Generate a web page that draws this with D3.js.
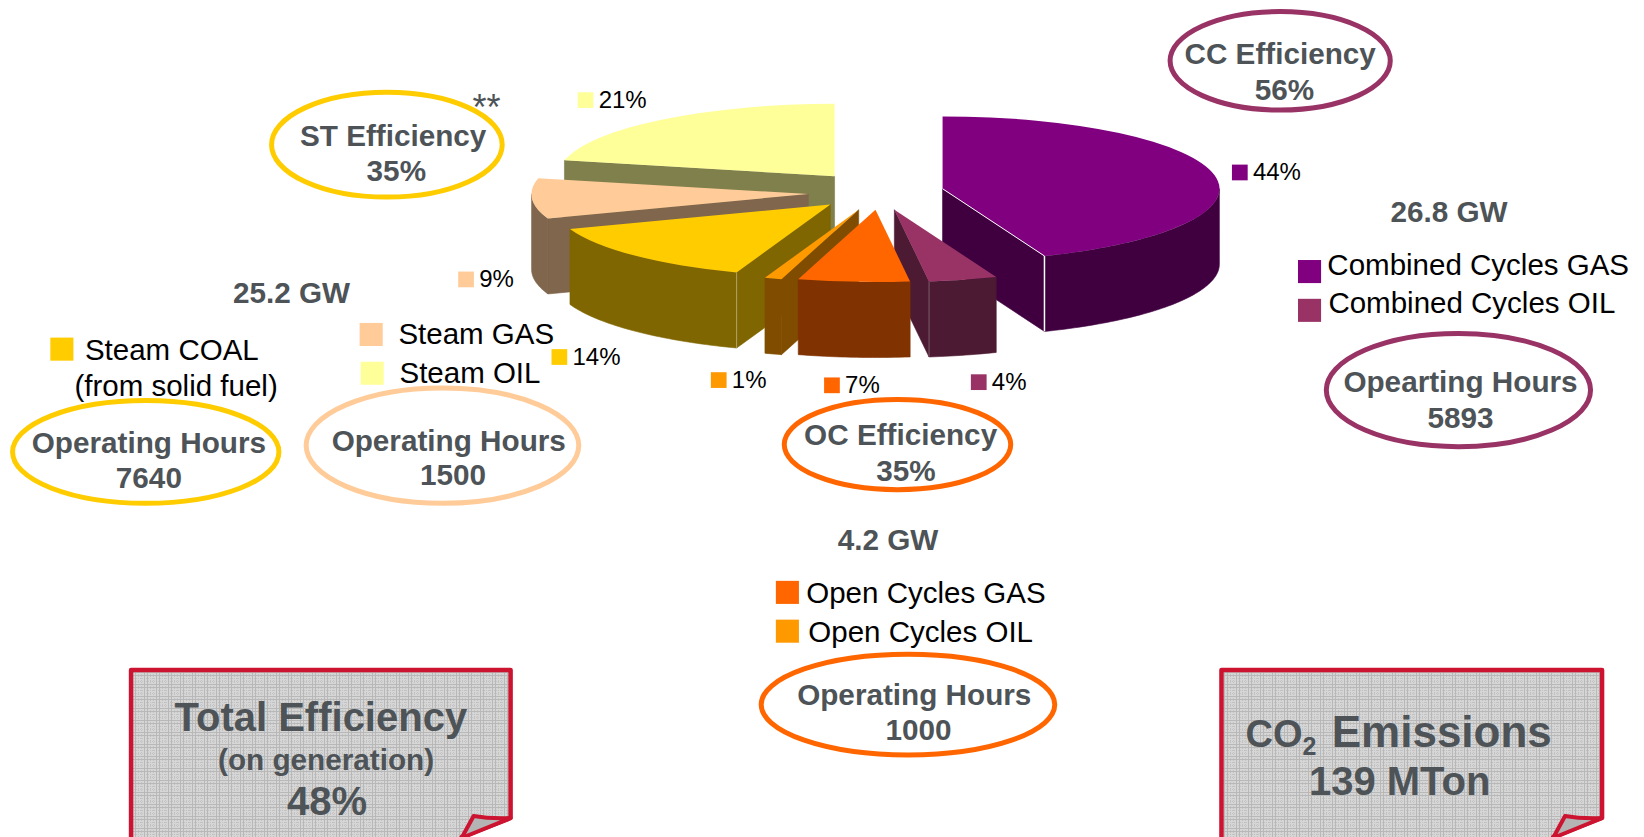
<!DOCTYPE html>
<html>
<head>
<meta charset="utf-8">
<script src="https://cdn.jsdelivr.net/npm/d3@7"></script>
<style>
html, body { margin: 0; background: #fff; overflow: hidden; }
svg { display: block; }
text { font-family: "Liberation Sans", Arial, sans-serif; }
</style>
</head>
<body>
<svg></svg>
<script>
var width = 1644
var height = 837

// pie data, clockwise from 12 o'clock
var categories = ["Combined Cycles GAS", "Combined Cycles OIL", "Open Cycles GAS", "Open Cycles OIL", "Steam COAL", "Steam GAS", "Steam OIL"]
var shares = [44, 4, 6.5, 1, 14, 9, 21.5]
var shareLabels = ["44%", "4%", "7%", "1%", "14%", "9%", "21%"]

var topColors = ["#800080", "#993366", "#ff6600", "#ff9900", "#ffcc00", "#ffcc99", "#ffff99"]
var sideColors = ["#40003f", "#4c1a33", "#803300", "#804d00", "#806600", "#80664d", "#80804d"]

// where each exploded slice has its apex, and where its label sits (reference px)
var apexX = [899, 853, 835, 819, 792, 771, 796]
var apexY = [180, 200, 200, 200, 195, 185, 168]
var labelX = [1175, 926, 786, 678, 526, 437, 551]
var labelY = [157, 357, 360, 355, 333, 259, 88]

// the reference was measured at 1568 wide
var s = d3.scaleLinear().domain([0, 1568]).range([0, width])

var radiusX = d3.scaleLinear().domain([-1, 1]).range([s(-264), s(264)])
var radiusY = d3.scaleLinear().domain([-1, 1]).range([s(-69), s(69)])
var depth = s(72)

var svg = d3.select("svg").attr("width", width).attr("height", height)

var defs = svg.append("defs")
var weave = defs.append("pattern")
    .attr("id", "weave")
    .attr("patternUnits", "userSpaceOnUse")
    .attr("width", 12)
    .attr("height", 12)
weave.append("rect").attr("width", 12).attr("height", 12).attr("fill", "#d6d6d6")
weave.append("path")
    .attr("d", "M0 6.5H12M0 9.5H12M6.5 0V12M9.5 0V12")
    .attr("stroke", "#c2c2c2")
    .attr("stroke-dasharray", "1 1")
weave.append("path")
    .attr("d", "M0 .5H12M0 3.5H12M.5 0V12M3.5 0V12")
    .attr("stroke", "#b8b8b8")

var arcs = d3.pie().sort(null).value(d => d)(shares)

var topArc = d3.arc().innerRadius(0).outerRadius(1)

function px(a) { return radiusX(Math.sin(a)) }
function py(a) { return radiusY(-Math.cos(a)) }

// pull the angle list along the rim for one wall
function rim(a0, a1) {
    var n = Math.max(2, Math.ceil((a1 - a0) / 0.02))
    return d3.range(n + 1).map(i => a0 + (a1 - a0) * i / n)
}

var wallArea = d3.area()
    .x(a => px(a))
    .y0(a => py(a))
    .y1(a => py(a) + depth)

// paint back to front, the open cycles wedge sits over its neighbours
var order = [6, 5, 4, 3, 0, 1, 2]

var slices = svg.append("g")
    .selectAll("g")
    .data(order)
    .enter()
    .append("g")
    .attr("transform", i => `translate(${s(apexX[i])}, ${s(apexY[i])})`)

function radialFace(a) {
    return `M0,0 L${px(a)},${py(a)} L${px(a)},${py(a) + depth} L0,${depth} Z`
}

// a cut face shows when it looks toward the viewer
slices.append("path")
    .attr("d", i => {
        var a = arcs[i]
        var d = ""
        if (Math.sin(a.startAngle) < -1e-6) d += radialFace(a.startAngle)
        if (Math.sin(a.endAngle) > 1e-6) d += radialFace(a.endAngle)
        return d
    })
    .attr("fill", i => sideColors[i])
    .attr("stroke", i => sideColors[i])
    .attr("stroke-width", 0.6)

slices.append("path")
    .attr("d", i => {
        var a = arcs[i]
        var from = Math.max(a.startAngle, Math.PI / 2)
        var to = Math.min(a.endAngle, Math.PI * 1.5)
        return to > from ? wallArea(rim(from, to)) : ""
    })
    .attr("fill", i => sideColors[i])
    .attr("stroke", i => sideColors[i])
    .attr("stroke-width", 0.6)

// edge where cut face meets the rim
var edgeColors = { 0: "#fff", 1: "#7d5a6c", 4: "#b3a366" }

slices.append("path")
    .attr("d", i => {
        var a = arcs[i]
        var e = i < 2 ? a.endAngle : a.startAngle
        return edgeColors[i]
            ? `M${px(e)},${py(e)} V${py(e) + depth}`
            : ""
    })
    .attr("stroke", i => edgeColors[i] || "none")
    .attr("stroke-width", i => i === 0 ? 1.5 : 1)
    .attr("fill", "none")

slices.append("path")
    .attr("d", i => topArc(arcs[i]))
    .attr("transform", `scale(${radiusX(1)}, ${radiusY(1)})`)
    .attr("fill", i => topColors[i])

// thin white seam under the big slice
slices.filter(i => i === 0)
    .append("path")
    .attr("d", i => {
        var a = arcs[i].endAngle
        return `M0,0 L${px(a)},${py(a)}`
    })
    .attr("stroke", "#fff")
    .attr("fill", "none")

// data labels with their colour chips
var chips = svg.append("g")
    .selectAll("g")
    .data(shareLabels)
    .enter()
    .append("g")

chips.append("rect")
    .attr("x", (d, i) => s(labelX[i]))
    .attr("y", (d, i) => s(labelY[i]))
    .attr("width", s(15))
    .attr("height", s(15))
    .attr("fill", (d, i) => topColors[i])

chips.append("text")
    .attr("x", (d, i) => s(labelX[i] + 20))
    .attr("y", (d, i) => s(labelY[i] + 15))
    .attr("font-size", 24)
    .attr("fill", "#000")
    .text(d => d)

// capacity legends
var legendX = [1238, 1238, 740, 740, 48, 343, 344]
var legendY = [248, 285, 554, 591, 322, 308, 345]
var legendTextX = [1266, 1267, 769, 771, 81, 380, 381]
var legendTextY = [262, 299, 575, 612, 343, 328, 365]

svg.append("g")
    .selectAll("rect")
    .data(categories)
    .enter()
    .append("rect")
    .attr("x", (d, i) => s(legendX[i]))
    .attr("y", (d, i) => s(legendY[i]))
    .attr("width", s(22))
    .attr("height", s(22))
    .attr("fill", (d, i) => topColors[i])

svg.append("g")
    .selectAll("text")
    .data(categories)
    .enter()
    .append("text")
    .attr("x", (d, i) => s(legendTextX[i]))
    .attr("y", (d, i) => s(legendTextY[i]))
    .attr("font-size", 29.5)
    .attr("fill", "#000")
    .text(d => d)

svg.append("text")
    .attr("x", s(71))
    .attr("y", s(378))
    .attr("font-size", 29.5)
    .attr("fill", "#000")
    .text("(from solid fuel)")

// ellipses round the efficiency and hours notes
var rings = [
    { cx: 1221, cy: 58, rx: 105, ry: 47, color: "#993366" },
    { cx: 369, cy: 138, rx: 110, ry: 50, color: "#ffcc00" },
    { cx: 139, cy: 431, rx: 127, ry: 49, color: "#ffcc00" },
    { cx: 422, cy: 425, rx: 130, ry: 55, color: "#ffcc99" },
    { cx: 856, cy: 424, rx: 108, ry: 43, color: "#ff6600" },
    { cx: 1391, cy: 372, rx: 126, ry: 54, color: "#993366" },
    { cx: 866, cy: 672, rx: 140, ry: 48, color: "#ff6600" }
]

svg.append("g")
    .selectAll("ellipse")
    .data(rings)
    .enter()
    .append("ellipse")
    .attr("cx", d => s(d.cx))
    .attr("cy", d => s(d.cy))
    .attr("rx", d => s(d.rx))
    .attr("ry", d => s(d.ry))
    .attr("fill", "none")
    .attr("stroke", d => d.color)
    .attr("stroke-width", 5)

// note cards, cut off by the bottom of the page
var cards = [
    { left: 125, right: 487 },
    { left: 1165, right: 1528 }
]

var card = svg.append("g").selectAll("g").data(cards).enter().append("g")

card.append("path")
    .attr("d", d => {
        var l = s(d.left), r = s(d.right), t = 670
        return `M${l},${height + 6} L${l},${t} L${r},${t} L${r},818 L${r - 49},837 L${r - 49},${height + 6} Z`
    })
    .attr("fill", "url(#weave)")
    .attr("stroke", "#cc1430")
    .attr("stroke-width", 4.5)
    .attr("stroke-linejoin", "round")

card.append("path")
    .attr("d", d => {
        var r = s(d.right)
        return `M${r - 49},838 L${r - 37},816 Q${r - 20},819 ${r},818 Z`
    })
    .attr("fill", "#b4b4b4")
    .attr("stroke", "#cc1430")
    .attr("stroke-width", 4)
    .attr("stroke-linejoin", "round")

// bold grey notes
var notes = [
    ["CC Efficiency", 1221, 61, 29.7],
    ["56%", 1225, 95, 29.7],
    ["ST Efficiency", 375, 139, 29.7],
    ["35%", 378, 173, 29.7],
    ["26.8 GW", 1382, 212, 29.7],
    ["Opearting Hours", 1393, 374, 29.7],
    ["5893", 1393, 408, 29.7],
    ["25.2 GW", 278, 289, 29.7],
    ["Operating Hours", 142, 432, 29.7],
    ["7640", 142, 465, 29.7],
    ["Operating Hours", 428, 430, 29.7],
    ["1500", 432, 463, 29.7],
    ["OC Efficiency", 859, 424, 29.7],
    ["35%", 864, 459, 29.7],
    ["4.2 GW", 847, 525, 29.7],
    ["Operating Hours", 872, 672, 29.7],
    ["1000", 876, 706, 29.7],
    ["Total Efficiency", 306, 697, 40],
    ["(on generation)", 311, 734, 29.7],
    ["48%", 312, 777, 40],
    ["139 MTon", 1335, 758, 40]
]

svg.append("g")
    .selectAll("text")
    .data(notes)
    .enter()
    .append("text")
    .attr("x", d => s(d[1]))
    .attr("y", d => s(d[2]))
    .attr("font-size", d => d[3])
    .attr("font-weight", "bold")
    .attr("fill", "#4d5357")
    .style("text-anchor", "middle")
    .text(d => d[0])

var co2 = svg.append("text")
    .attr("x", s(1188))
    .attr("y", s(712))
    .attr("font-size", 44)
    .attr("font-weight", "bold")
    .attr("fill", "#4d5357")
co2.append("tspan").attr("font-size", 38).text("CO")
co2.append("tspan").attr("font-size", 25).attr("dy", 8).text("2")
co2.append("tspan").attr("dy", -8).attr("dx", 3).text(" Emissions")

svg.append("text")
    .attr("x", s(464))
    .attr("y", s(114))
    .attr("font-size", 36)
    .attr("fill", "#4d5357")
    .style("text-anchor", "middle")
    .text("**")
</script>
</body>
</html>
